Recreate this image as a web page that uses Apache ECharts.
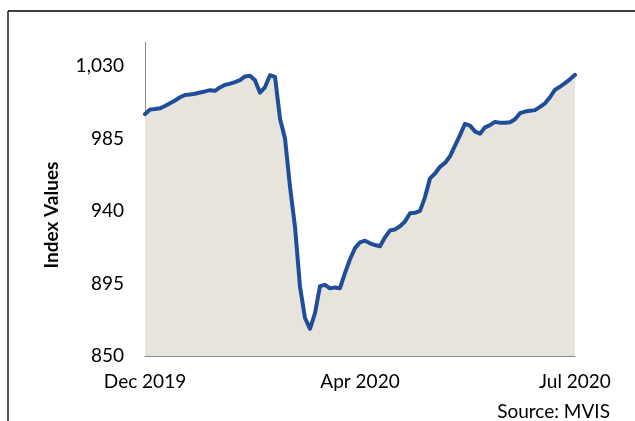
<!DOCTYPE html>
<html>
<head>
<meta charset="utf-8">
<script src="https://cdn.jsdelivr.net/npm/echarts@6/dist/echarts.min.js"></script>
<style>
  html, body { margin: 0; padding: 0; background: #fff; }
  #main { width: 635px; height: 421px; }
</style>
</head>
<body>
<div id="main"></div>
<script>
// dates of the sampled points (about every 2 days)
var dates = [
  '2019-12-31', '2020-01-02', '2020-01-04', '2020-01-06', '2020-01-09', '2020-01-11', '2020-01-13', '2020-01-15',
  '2020-01-17', '2020-01-19', '2020-01-21', '2020-01-23', '2020-01-26', '2020-01-28', '2020-01-30', '2020-02-01',
  '2020-02-03', '2020-02-05', '2020-02-07', '2020-02-09', '2020-02-12', '2020-02-14', '2020-02-16', '2020-02-18',
  '2020-02-20', '2020-02-22', '2020-02-24', '2020-02-26', '2020-02-29', '2020-03-02', '2020-03-04', '2020-03-06',
  '2020-03-08', '2020-03-10', '2020-03-12', '2020-03-14', '2020-03-17', '2020-03-19', '2020-03-21', '2020-03-23',
  '2020-03-25', '2020-03-27', '2020-03-29', '2020-04-01', '2020-04-03', '2020-04-05', '2020-04-07', '2020-04-09',
  '2020-04-11', '2020-04-13', '2020-04-15', '2020-04-18', '2020-04-20', '2020-04-22', '2020-04-24', '2020-04-26',
  '2020-04-28', '2020-04-30', '2020-05-02', '2020-05-05', '2020-05-07', '2020-05-09', '2020-05-11', '2020-05-13',
  '2020-05-15', '2020-05-17', '2020-05-19', '2020-05-22', '2020-05-24', '2020-05-26', '2020-05-28', '2020-05-30',
  '2020-06-01', '2020-06-03', '2020-06-05', '2020-06-08', '2020-06-10', '2020-06-12', '2020-06-14', '2020-06-16',
  '2020-06-18', '2020-06-20', '2020-06-22', '2020-06-25', '2020-06-27', '2020-06-29', '2020-07-01'
];

// index values
var indexValues = [
  1000.2, 1003.1, 1003.4, 1003.8, 1005.3, 1007.0, 1008.7, 1010.7,
  1012.1, 1012.4, 1012.9, 1013.6, 1014.3, 1015.1, 1014.7, 1016.8,
  1018.4, 1019.1, 1020.1, 1021.3, 1023.6, 1024.0, 1021.2, 1013.5,
  1017.0, 1024.4, 1023.4, 997.5, 985.1, 955.1, 930.3, 893.0,
  873.6, 866.9, 876.7, 893.4, 894.2, 892.0, 892.6, 892.1,
  901.6, 910.1, 917.0, 920.6, 921.6, 920.0, 918.9, 918.2,
  923.7, 928.0, 928.6, 930.6, 933.5, 938.6, 938.9, 940.1,
  948.7, 960.3, 963.3, 967.5, 969.9, 974.0, 980.6, 987.2,
  994.2, 993.1, 989.5, 988.0, 992.0, 993.4, 995.4, 994.9,
  994.8, 995.2, 997.0, 1000.8, 1001.8, 1002.3, 1002.7, 1004.7,
  1006.9, 1010.7, 1015.4, 1017.2, 1019.5, 1021.8, 1024.6
];

// dates that get a label on the x axis
var xTickDates = ['2019-12-31', '2020-04-01', '2020-07-01'];
var xTickLabels = ['Dec 2019', 'Apr 2020', 'Jul 2020'];

var yMin = 850;
var yMax = 1045;
var yStep = 45;

var fontName = 'Lato';
var chart = echarts.init(document.getElementById('main'), null, { renderer: 'canvas' });

var option = {
  animation: false,
  backgroundColor: '#fff',
  grid: {
    left: 145,
    right: 60,
    top: 42,
    bottom: 65,
    containLabel: false
  },
  xAxis: {
    type: 'category',
    boundaryGap: false,
    data: dates,
    axisLine: { lineStyle: { color: '#8c8c8c', width: 1 } },
    axisTick: { show: false },
    splitLine: { show: false },
    axisLabel: {
      interval: function (idx, val) {
        return xTickDates.indexOf(val) >= 0;
      },
      formatter: function (val) {
        var k = xTickDates.indexOf(val);
        return k >= 0 ? xTickLabels[k] : '';
      },
      margin: 16,
      color: '#000',
      fontFamily: fontName,
      fontSize: 19
    }
  },
  yAxis: {
    type: 'value',
    min: yMin,
    max: yMax,
    interval: yStep,
    axisLine: { show: true, lineStyle: { color: '#8c8c8c', width: 1 } },
    axisTick: { show: false },
    splitLine: { show: false },
    axisLabel: {
      showMaxLabel: false,
      margin: 21,
      color: '#000',
      fontFamily: fontName,
      fontSize: 19,
      formatter: function (v) {
        if (v > 1030) return '';
        return v.toLocaleString('en-US');
      }
    }
  },
  series: [{
    name: 'Index',
    type: 'line',
    data: indexValues,
    symbol: 'none',
    smooth: false,
    lineStyle: { color: '#1f4e99', width: 4, join: 'round', cap: 'round' },
    areaStyle: { color: '#e7e3dd', opacity: 1, origin: 'start' }
  }],
  graphic: [
    {
      type: 'line',
      shape: { x1: 8, y1: 11, x2: 635, y2: 11 },
      style: { stroke: '#000', lineWidth: 1.3 }
    },
    {
      type: 'line',
      shape: { x1: 8, y1: 11, x2: 8, y2: 421 },
      style: { stroke: '#000', lineWidth: 1.3 }
    },
    {
      // y axis title
      type: 'text',
      x: 52,
      y: 215,
      rotation: Math.PI / 2,
      style: {
        text: 'Index Values',
        fill: '#000',
        font: 'bold 19px Lato',
        align: 'center',
        verticalAlign: 'middle'
      }
    },
    {
      type: 'text',
      right: 25,
      top: 402,
      style: {
        text: 'Source: MVIS',
        fill: '#000',
        font: '19px Lato'
      }
    }
  ]
};

chart.setOption(option);
</script>
</body>
</html>
